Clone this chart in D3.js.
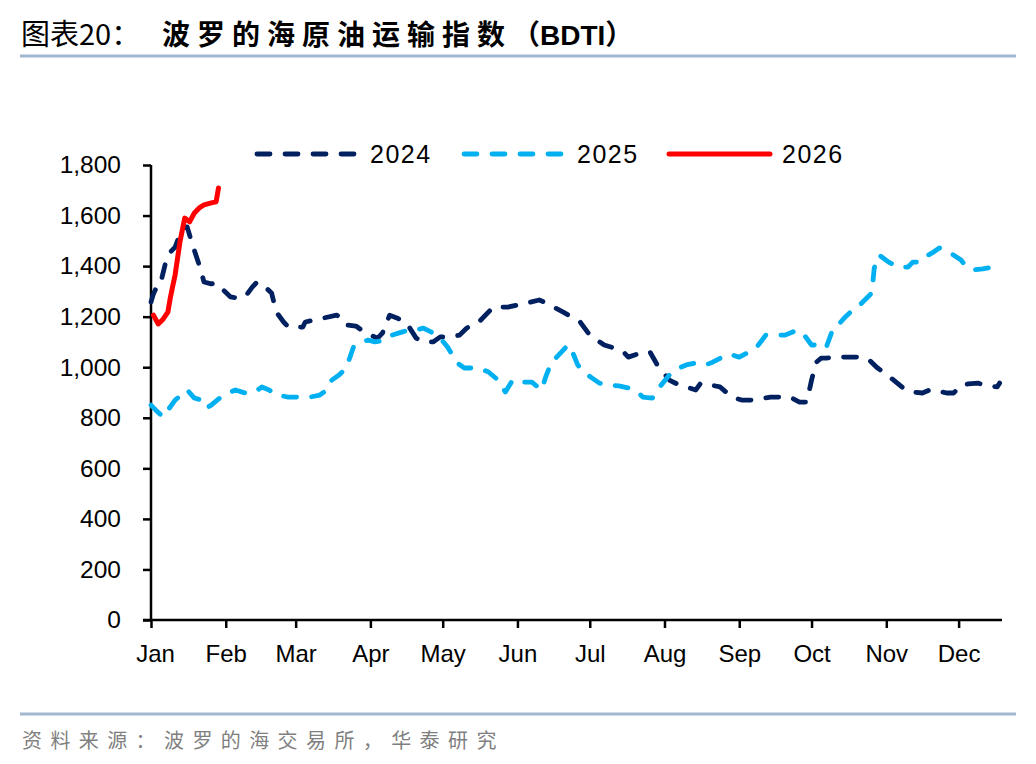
<!DOCTYPE html>
<html><head><meta charset="utf-8">
<script src="https://cdn.jsdelivr.net/npm/d3@7"></script>
<style>
html,body{margin:0;padding:0;background:#fff;}
svg{display:block;}
</style></head>
<body>
<script>
// ---- data (month-day, value) ----
const dates2024 = ["01-01","01-02","01-04","01-05","01-07","01-09","01-11","01-14","01-16","01-18","01-21","01-23","01-26","01-28","01-31","02-03","02-06","02-09","02-12","02-14","02-17","02-20","02-22","02-25","02-27","03-04","03-05","03-09","03-18","03-20","03-22","03-26","03-30","04-04","04-06","04-09","04-12","04-16","04-20","04-23","04-27","04-30","05-04","05-08","05-11","05-16","05-22","05-28","06-01","06-05","06-10","06-12","06-16","06-20","06-27","07-01","07-07","07-11","07-15","07-17","07-22","07-26","07-29","08-03","08-07","08-10","08-14","08-16","08-20","08-24","08-29","09-02","09-06","09-14","09-18","09-22","09-26","09-29","10-01","10-03","10-05","10-07","10-13","10-22","10-25","10-28","11-03","11-09","11-12","11-16","11-19","11-21","11-26","11-29","12-02","12-05","12-09","12-13","12-17","12-18"];
const values2024 = [1258,1290,1330,1333,1412,1455,1475,1550,1555,1491,1404,1337,1330,1333,1305,1278,1274,1278,1317,1337,1320,1294,1218,1179,1159,1159,1179,1187,1206,1195,1167,1163,1135,1115,1135,1206,1195,1175,1115,1100,1100,1120,1120,1127,1155,1179,1238,1238,1246,1254,1266,1258,1238,1218,1179,1127,1088,1076,1060,1040,1056,1060,1009,949,930,922,910,937,930,922,882,870,870,882,882,882,862,862,949,1020,1036,1036,1040,1040,1028,1000,957,910,902,898,910,910,898,898,930,934,937,926,922,937];

const dates2025 = ["01-01","01-03","01-06","01-08","01-11","01-13","01-16","01-19","01-22","01-24","01-26","01-30","02-02","02-05","02-09","02-13","02-16","02-19","02-22","02-27","03-07","03-11","03-14","03-16","03-19","03-22","03-25","03-28","03-31","04-03","04-07","04-10","04-14","04-17","04-20","04-23","04-27","04-30","05-03","05-07","05-10","05-13","05-17","05-20","05-24","05-27","05-30","06-03","06-07","06-11","06-13","06-15","06-20","06-22","06-23","06-26","06-29","07-02","07-05","07-09","07-13","07-17","07-20","07-23","07-27","07-30","08-04","08-07","08-10","08-14","08-18","08-21","08-25","08-28","09-01","09-05","09-08","09-12","09-16","09-20","09-25","09-28","10-01","10-04","10-07","10-10","10-12","10-15","10-18","10-21","10-26","10-27","10-29","11-02","11-06","11-10","11-12","11-15","11-17","11-20","11-23","11-27","12-02","12-04","12-07","12-11","12-15","12-18"];
const values2025 = [850,830,803,830,870,886,910,878,870,839,850,882,898,910,898,902,922,910,890,882,882,890,910,949,969,997,1080,1100,1107,1100,1107,1127,1139,1147,1147,1155,1135,1115,1080,1017,997,997,993,981,949,902,949,941,941,910,969,1017,1068,1088,1080,1009,977,957,937,930,926,918,910,882,878,922,981,997,1009,1017,1009,1020,1040,1052,1040,1060,1076,1127,1127,1127,1147,1127,1088,1088,1076,1155,1167,1199,1226,1246,1294,1392,1444,1416,1396,1396,1416,1416,1436,1452,1472,1456,1424,1400,1385,1389,1396,1416];

const dates2026 = ["01-02","01-04","01-06","01-08","01-09","01-10","01-11","01-13","01-15","01-17","01-19","01-21","01-23","01-26","01-28","01-29"];
const values2026 = [1206,1171,1190,1218,1274,1320,1365,1495,1590,1575,1610,1630,1642,1650,1654,1709];

const monthLabels = ["Jan","Feb","Mar","Apr","May","Jun","Jul","Aug","Sep","Oct","Nov","Dec"];
const yTicks = [0,200,400,600,800,1000,1200,1400,1600,1800];
const seriesNames = ["2024","2025","2026"];

// ---- layout ----
const W = 1036, H = 764;
const svg = d3.select("body").append("svg").attr("width", W).attr("height", H);
const FONT = "Liberation Sans, Arial, sans-serif";
const CJK = "'Noto Sans CJK SC', sans-serif";

const parse = md => { const [m, d] = md.split("-").map(Number); return new Date(2024, m - 1, d); };
const x = d3.scaleTime().domain([new Date(2024,0,1), new Date(2024,11,19)]).range([151, 1002]);
const y = d3.scaleLinear().domain([0, 1800]).range([620, 165]);

// title
svg.append("text").attr("x", 21).attr("y", 45).attr("font-family", CJK).attr("font-size", 29)
  .attr("fill", "#000").text("图表20：");
const t2 = svg.append("text").attr("x", 162).attr("y", 45).attr("font-family", CJK).attr("font-size", 28)
  .attr("font-weight", "bold").attr("fill", "#000");
t2.append("tspan").attr("letter-spacing", 7).text("波罗的海原油运输指数");
t2.append("tspan").text("（");
t2.append("tspan").attr("font-family", FONT).text("BDTI");
t2.append("tspan").text("）");
svg.append("line").attr("x1", 20).attr("x2", 1016).attr("y1", 56).attr("y2", 56)
  .attr("stroke", "#a3b6cf").attr("stroke-width", 3);

// footer
svg.append("line").attr("x1", 20).attr("x2", 1016).attr("y1", 714).attr("y2", 714)
  .attr("stroke", "#a3b6cf").attr("stroke-width", 3);
svg.append("text").attr("x", 22).attr("y", 748).attr("font-family", CJK).attr("font-size", 20)
  .attr("letter-spacing", 8.4).attr("fill", "#7f7f7f").text("资料来源：波罗的海交易所，华泰研究");

// axes
const yAxis = d3.axisLeft(y).tickValues(yTicks).tickFormat(d3.format(",")).tickSize(8).tickPadding(22);
const gy = svg.append("g").attr("transform", "translate(151,0)").call(yAxis);
gy.select(".domain").attr("stroke", "#000").attr("stroke-width", 2.5).attr("d", "M0,165V620");
gy.selectAll(".tick line").attr("stroke", "#000").attr("stroke-width", 2.5);
gy.selectAll(".tick text").attr("font-family", FONT).attr("font-size", 24.5).attr("fill", "#000");

const monthTicks = d3.range(12).map(i => new Date(2024, i, 1));
const xAxis = d3.axisBottom(x).tickValues(monthTicks).tickFormat((d, i) => monthLabels[i]).tickSize(8).tickPadding(17);
const gx = svg.append("g").attr("transform", "translate(0,620)").call(xAxis);
gx.select(".domain").attr("stroke", "#000").attr("stroke-width", 2.5).attr("d", "M143,0H1002");
gx.selectAll(".tick line").attr("stroke", "#000").attr("stroke-width", 2.5);
gx.selectAll(".tick text").attr("font-family", FONT).attr("font-size", 24).attr("fill", "#000");
gx.selectAll(".tick").filter((d, i) => i === 0).select("text").attr("dx", 4);

// lines
const line = d3.line().x(d => x(d.date)).y(d => y(d.v)).curve(d3.curveLinear);
const mk = (ds, vs) => ds.map((d, i) => ({ date: parse(d), v: vs[i] }));
const series = [
  { data: mk(dates2024, values2024), color: "#002060", dash: "13 15", w: 4.8 },
  { data: mk(dates2025, values2025), color: "#00b0f0", dash: "13 15", w: 4.8 },
  { data: mk(dates2026, values2026), color: "#ff0000", dash: null, w: 5 }
];
series.forEach(s => {
  svg.append("path").datum(s.data).attr("d", line).attr("fill", "none")
    .attr("stroke", s.color).attr("stroke-width", s.w)
    .attr("stroke-linecap", "round").attr("stroke-linejoin", "round")
    .attr("stroke-dasharray", s.dash);
});

// legend
const legX = [257, 464, 669];
series.forEach((s, i) => {
  svg.append("line").attr("x1", legX[i]).attr("x2", legX[i] + 101).attr("y1", 154).attr("y2", 154)
    .attr("stroke", s.color).attr("stroke-width", s.w).attr("stroke-linecap", "round")
    .attr("stroke-dasharray", s.dash);
  svg.append("text").attr("x", legX[i] + 113).attr("y", 163).attr("font-family", FONT)
    .attr("font-size", 25).attr("letter-spacing", 1.5).attr("fill", "#000").text(seriesNames[i]);
});
</script>
</body></html>
